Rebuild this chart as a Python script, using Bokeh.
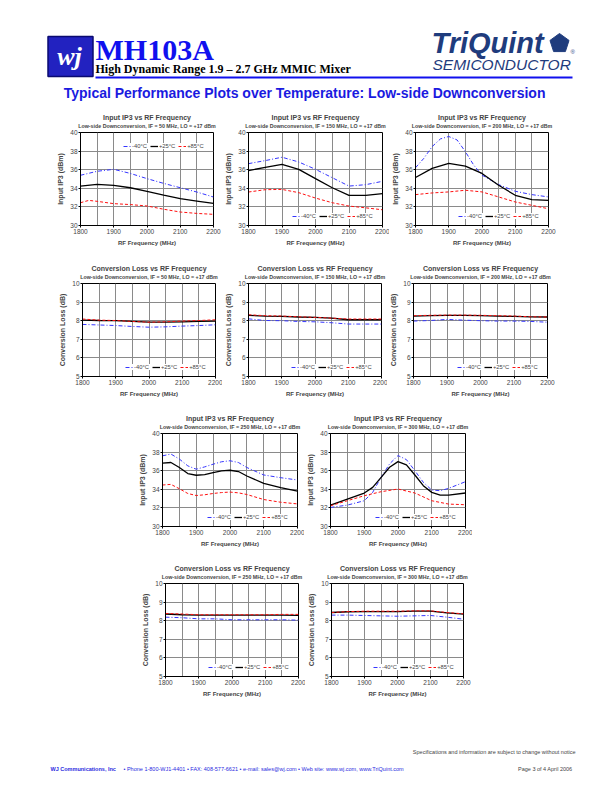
import math
from bokeh.plotting import figure
from bokeh.layouts import column, row
from bokeh.models import Spacer, Title, FixedTicker, Range1d
from bokeh.embed import file_html
from bokeh.resources import INLINE
from bokeh.core.properties import value

FONT = "Liberation Sans"

# ---------------- data ----------------
freq_50 = [1800, 1850, 1900, 1950, 2000, 2050, 2100, 2150, 2200]
x_ticks = [1800, 1900, 2000, 2100, 2200]
ip3_ticks = [30, 32, 34, 36, 38, 40]
cl_ticks = [5, 6, 7, 8, 9, 10]
legend_labels = ["-40°C", "+25°C", "+85°C"]

# Input IP3, IF = 50 MHz
ip3_if50_m40 = [35.4, 35.83, 36.04, 35.6, 35.04, 34.53, 34.06, 33.6, 33.06]
ip3_if50_p25 = [34.24, 34.42, 34.32, 34.06, 33.67, 33.27, 32.88, 32.63, 32.37]
ip3_if50_p85_freq = [1800, 1825, 1850, 1900, 1950, 2000, 2050, 2100, 2150, 2200]
ip3_if50_p85 = [32.45, 32.7, 32.6, 32.35, 32.25, 32.1, 31.75, 31.45, 31.3, 31.2]

# Input IP3, IF = 150 MHz
ip3_if150_m40 = [36.65, 36.98, 37.34, 36.83, 36.04, 35.14, 34.24, 34.39, 34.75]
ip3_if150_p25 = [35.9, 36.26, 36.58, 36.04, 35.04, 34.06, 33.24, 33.24, 33.42]
ip3_if150_p85 = [33.6, 33.85, 33.88, 33.53, 32.95, 32.45, 32.09, 31.9, 31.69]

# Input IP3, IF = 200 MHz
ip3_if200_m40_freq = [1800, 1825, 1850, 1875, 1900, 1925, 1950, 1975, 2000, 2050, 2100, 2150, 2200]
ip3_if200_m40 = [36.21, 37.22, 38.48, 39.31, 39.57, 39.2, 37.94, 36.5, 35.42, 34.4, 33.68, 33.32, 33.07]
ip3_if200_p25 = [35.16, 36.14, 36.68, 36.39, 35.6, 34.33, 33.25, 32.78, 32.71]
ip3_if200_p85 = [33.32, 33.5, 33.61, 33.79, 33.61, 33.07, 32.53, 32.17, 31.8]

# Conversion loss, IF = 50 MHz
cl_if50_m40 = [7.8, 7.77, 7.74, 7.69, 7.65, 7.67, 7.71, 7.74, 7.78]
cl_if50_p25 = [8.03, 8.01, 8.0, 7.96, 7.92, 7.92, 7.94, 7.96, 7.98]
cl_if50_p85 = [8.09, 8.03, 8.01, 7.96, 7.92, 7.94, 7.98, 8.01, 8.05]

# Conversion loss, IF = 150 MHz
cl_if150_m40 = [8.1, 8.01, 8.0, 7.96, 7.94, 7.89, 7.82, 7.82, 7.82]
cl_if150_p25 = [8.29, 8.25, 8.23, 8.2, 8.18, 8.14, 8.05, 8.05, 8.05]
cl_if150_p85 = [8.32, 8.27, 8.25, 8.21, 8.18, 8.14, 8.09, 8.09, 8.09]

# Conversion loss, IF = 200 MHz
cl_if200_m40 = [7.98, 8.01, 8.07, 8.03, 8.0, 7.98, 7.98, 7.96, 7.92]
cl_if200_p25 = [8.25, 8.27, 8.29, 8.29, 8.27, 8.25, 8.23, 8.21, 8.2]
cl_if200_p85 = [8.27, 8.29, 8.3, 8.3, 8.29, 8.27, 8.25, 8.21, 8.2]

# Input IP3, IF = 250 MHz
ip3_if250_freq = [1800, 1825, 1850, 1875, 1900, 1925, 1950, 1975, 2000, 2025, 2050, 2100, 2150, 2200]
ip3_if250_m40 = [37.6, 37.79, 37.25, 36.52, 36.16, 36.41, 36.7, 36.96, 37.07, 36.88, 36.34, 35.54, 35.25, 35.0]
ip3_if250_p25 = [36.81, 36.88, 36.34, 35.69, 35.51, 35.58, 35.8, 35.98, 36.05, 35.91, 35.43, 34.64, 34.17, 33.8]
ip3_if250_p85 = [34.46, 34.53, 34.06, 33.55, 33.33, 33.41, 33.55, 33.65, 33.7, 33.62, 33.44, 32.9, 32.61, 32.43]

# Input IP3, IF = 300 MHz
ip3_if300_freq = [1800, 1850, 1900, 1925, 1950, 1975, 2000, 2025, 2050, 2075, 2100, 2125, 2150, 2200]
ip3_if300_m40 = [32.05, 32.3, 32.77, 33.67, 35.29, 36.73, 37.63, 37.19, 36.0, 34.75, 33.92, 33.85, 34.1, 34.82]
ip3_if300_p25 = [32.3, 32.95, 33.6, 34.21, 35.29, 36.37, 36.98, 36.62, 35.54, 34.39, 33.67, 33.38, 33.38, 33.6]
ip3_if300_p85_freq = [1800, 1850, 1900, 1950, 2000, 2050, 2100, 2150, 2200]
ip3_if300_p85 = [32.23, 32.77, 33.31, 33.74, 34.03, 33.6, 32.77, 32.41, 32.34]

# Conversion loss, IF = 250 MHz
cl_if250_m40 = [8.19, 8.16, 8.1, 8.1, 8.05, 8.05, 8.05, 8.05, 8.03]
cl_if250_p25 = [8.36, 8.32, 8.3, 8.3, 8.3, 8.3, 8.3, 8.3, 8.29]
cl_if250_p85 = [8.39, 8.36, 8.32, 8.32, 8.32, 8.32, 8.32, 8.34, 8.34]

# Conversion loss, IF = 300 MHz
cl_if300_m40 = [8.3, 8.3, 8.28, 8.26, 8.24, 8.26, 8.28, 8.19, 8.08]
cl_if300_p25 = [8.44, 8.48, 8.49, 8.49, 8.49, 8.51, 8.51, 8.42, 8.35]
cl_if300_p85 = [8.44, 8.49, 8.51, 8.51, 8.51, 8.53, 8.53, 8.44, 8.37]

# ---------------- styling ----------------
STYLES = [
    dict(color="#3535ff", line_width=1.0, line_dash="4 2 1 2"),
    dict(color="black", line_width=1.3, line_dash="solid"),
    dict(color="#ff1010", line_width=1.0, line_dash="3 2"),
]
IP3_TITLE = "Input IP3 vs RF Frequency"
CL_TITLE = "Conversion Loss vs RF Frequency"
IP3_Y = "Input IP3 (dBm)"
CL_Y = "Conversion Loss (dB)"
LEG_W = 88


def sub(if_mhz):
    return "Low-side Downconversion, IF = %d MHz, LO = +17 dBm" % if_mhz


def make_chart(main, subtitle, ylabel, yr, yticks, series, frame_w, fig_w, fig_h, legend_top):
    left, top, frame_h = 26, 25, 93
    p = figure(width=fig_w, height=fig_h, x_range=Range1d(1800, 2200), y_range=Range1d(*yr),
               output_backend="svg", toolbar_location=None, title=main,
               min_border_left=left, min_border_right=fig_w - left - frame_w,
               min_border_top=top, min_border_bottom=fig_h - top - frame_h)
    p.title.text_font = FONT
    p.title.text_font_size = "7px"
    p.title.text_font_style = "bold"
    p.title.align = "center"
    p.title.standoff = 2
    p.title.offset = 0
    p.add_layout(Title(text=subtitle, text_font=FONT, text_font_size="5.3px", text_font_style="bold",
                       align="center", standoff=3, vertical_align="top"), "above")
    for (xs, ys), lbl, st in zip(series, legend_labels, STYLES):
        p.line(xs, ys, legend_label=lbl, **st)
    for ax in (p.xaxis[0], p.yaxis[0]):
        ax.major_label_text_font = FONT
        ax.major_label_text_font_size = "6.5px"
        ax.axis_label_text_font = FONT
        ax.axis_label_text_font_style = "bold"
        ax.major_tick_in = 0
        ax.major_tick_out = 2
        ax.minor_tick_in = 0
        ax.minor_tick_out = 0
        ax.axis_line_color = "black"
        ax.major_tick_line_color = "black"
        ax.major_label_standoff = 1
        ax.axis_label_standoff = 3
    p.xaxis.axis_label_text_font_size = "6px"
    p.yaxis.axis_label_text_font_size = "7px"
    p.xaxis.ticker = FixedTicker(ticks=x_ticks)
    p.yaxis.ticker = FixedTicker(ticks=yticks)
    p.xaxis.axis_label = "RF Frequency (MHz)"
    p.yaxis.axis_label = ylabel
    p.xgrid.ticker = FixedTicker(ticks=freq_50)
    p.ygrid.ticker = FixedTicker(ticks=yticks)
    p.grid.grid_line_color = "#8a8a8a"
    p.grid.grid_line_width = 1
    p.outline_line_color = "black"
    p.outline_line_width = 1
    lg = p.legend[0]
    lx = frame_w - LEG_W - 2
    lg.location = (lx, frame_h - 17) if legend_top else (lx, 6)
    lg.orientation = "horizontal"
    lg.label_text_font = FONT
    lg.label_text_font_size = "5.8px"
    lg.glyph_width = 8
    lg.glyph_height = 6
    lg.label_height = 6
    lg.label_width = 10
    lg.label_standoff = 1
    lg.spacing = 3
    lg.padding = 2
    lg.margin = 0
    lg.border_line_color = None
    lg.background_fill_color = "white"
    lg.background_fill_alpha = 1.0
    return p


c1 = make_chart(IP3_TITLE, sub(50), IP3_Y, (30, 40), ip3_ticks,
                [(freq_50, ip3_if50_m40), (freq_50, ip3_if50_p25), (ip3_if50_p85_freq, ip3_if50_p85)],
                133, 168, 151, True)
c2 = make_chart(IP3_TITLE, sub(150), IP3_Y, (30, 40), ip3_ticks,
                [(freq_50, ip3_if150_m40), (freq_50, ip3_if150_p25), (freq_50, ip3_if150_p85)],
                134, 167, 151, False)
c3 = make_chart(IP3_TITLE, sub(200), IP3_Y, (30, 40), ip3_ticks,
                [(ip3_if200_m40_freq, ip3_if200_m40), (freq_50, ip3_if200_p25), (freq_50, ip3_if200_p85)],
                133, 168, 151, False)

c4 = make_chart(CL_TITLE, sub(50), CL_Y, (5, 10), cl_ticks,
                [(freq_50, cl_if50_m40), (freq_50, cl_if50_p25), (freq_50, cl_if50_p85)],
                133, 166, 150, False)
c5 = make_chart(CL_TITLE, sub(150), CL_Y, (5, 10), cl_ticks,
                [(freq_50, cl_if150_m40), (freq_50, cl_if150_p25), (freq_50, cl_if150_p85)],
                133, 165, 150, False)
c6 = make_chart(CL_TITLE, sub(200), CL_Y, (5, 10), cl_ticks,
                [(freq_50, cl_if200_m40), (freq_50, cl_if200_p25), (freq_50, cl_if200_p85)],
                134, 168, 150, False)

c7 = make_chart(IP3_TITLE, sub(250), IP3_Y, (30, 40), ip3_ticks,
                [(ip3_if250_freq, ip3_if250_m40), (ip3_if250_freq, ip3_if250_p25), (ip3_if250_freq, ip3_if250_p85)],
                135, 168, 150, False)
c8 = make_chart(IP3_TITLE, sub(300), IP3_Y, (30, 40), ip3_ticks,
                [(ip3_if300_freq, ip3_if300_m40), (ip3_if300_freq, ip3_if300_p25), (ip3_if300_p85_freq, ip3_if300_p85)],
                135, 168, 150, False)

c9 = make_chart(CL_TITLE, sub(250), CL_Y, (5, 10), cl_ticks,
                [(freq_50, cl_if250_m40), (freq_50, cl_if250_p25), (freq_50, cl_if250_p85)],
                133, 166, 150, False)
c10 = make_chart(CL_TITLE, sub(300), CL_Y, (5, 10), cl_ticks,
                 [(freq_50, cl_if300_m40), (freq_50, cl_if300_p25), (freq_50, cl_if300_p85)],
                 132, 166, 150, False)

# ---------------- header ----------------
W = 612
HH = 107
hdr = figure(width=W, height=HH, x_range=Range1d(0, W), y_range=Range1d(HH, 0),
             output_backend="svg", toolbar_location=None, min_border=0,
             x_axis_type=None, y_axis_type=None, outline_line_color=None)
hdr.grid.visible = False
BLUE = "#1010ee"
NAVY = "#1f3c7d"
hdr.rect(x=[70], y=[56], width=45, height=40, fill_color="#2222c0", line_color="#0a0a70", line_width=1.5)
hdr.text(x=[69], y=[56], text=["wj"], text_font=value("Liberation Serif"), text_font_size="26px",
         text_font_style="bold italic", text_color="white", text_align="center", text_baseline="middle")
hdr.text(x=[95], y=[49], text=["MH103A"], text_font=value("Liberation Serif"), text_font_size="30px",
         text_font_style="bold", text_color=BLUE, text_align="left", text_baseline="middle")
hdr.text(x=[95], y=[68.5], text=["High Dynamic Range 1.9 – 2.7 GHz MMIC Mixer"], text_font=value("Liberation Serif"),
         text_font_size="12px", text_font_style="bold", text_color="black", text_align="left",
         text_baseline="middle")
hdr.line(x=[95, 572], y=[77, 77], line_color=BLUE, line_width=2)
hdr.text(x=[431], y=[42.5], text=["TriQuint"], text_font=value("Liberation Sans"), text_font_size="29px",
         text_font_style="bold italic", text_color=NAVY, text_align="left", text_baseline="middle")
cx, cy, r = 559, 43, 10
pent_x = [cx + r * math.cos(math.radians(-90 + 72 * k)) for k in range(5)]
pent_y = [cy + r * math.sin(math.radians(-90 + 72 * k)) for k in range(5)]
hdr.patch(pent_x, pent_y, fill_color=NAVY, line_color=NAVY)
hdr.text(x=[570], y=[51], text=["®"], text_font=value("Liberation Sans"), text_font_size="6px",
         text_color=NAVY, text_align="left", text_baseline="middle")
hdr.text(x=[432], y=[64], text=["SEMICONDUCTOR"], text_font=value("Liberation Sans"), text_font_size="15.5px",
         text_font_style="italic", text_color=NAVY, text_align="left", text_baseline="middle")
hdr.text(x=[306], y=[92.5], text=["Typical Performance Plots over Temperature:  Low-side Downconversion"],
         text_font=value("Liberation Sans"), text_font_size="14px", text_font_style="bold",
         text_color="#1a1ae0", text_align="center", text_baseline="middle")

# ---------------- footer ----------------
FH = 80
ftr = figure(width=W, height=FH, x_range=Range1d(0, W), y_range=Range1d(FH, 0),
             output_backend="svg", toolbar_location=None, min_border=0,
             x_axis_type=None, y_axis_type=None, outline_line_color=None)
ftr.grid.visible = False
ftr.text(x=[575], y=[43], text=["Specifications and information are subject to change without notice"],
         text_font=value(FONT), text_font_size="5.5px", text_color="#444444", text_align="right",
         text_baseline="middle")
ftr.text(x=[50], y=[60], text=["WJ Communications, Inc"], text_font=value(FONT), text_font_size="5.5px",
         text_font_style="bold", text_color="#2a2ae0", text_align="left", text_baseline="middle")
ftr.text(x=[123], y=[60],
         text=["•  Phone 1-800-WJ1-4401  •  FAX: 408-577-6621  •  e-mail: sales@wj.com  •  Web site: www.wj.com, www.TriQuint.com"],
         text_font=value(FONT), text_font_size="5.5px", text_color="#2a2ae0", text_align="left",
         text_baseline="middle")
ftr.text(x=[575], y=[60], text=["Page 3 of 4   April 2006"], text_font=value(FONT), text_font_size="5.5px",
         text_color="#444444", text_align="right", text_baseline="middle")

layout = column(
    hdr,
    row(Spacer(width=54, height=151), c1, c2, c3),
    row(Spacer(width=56, height=150), c4, c5, c6),
    row(Spacer(width=136, height=150), c7, c8),
    row(Spacer(width=139, height=150), c9, c10),
    ftr,
)

open("out.html", "w").write(file_html(layout, INLINE))
